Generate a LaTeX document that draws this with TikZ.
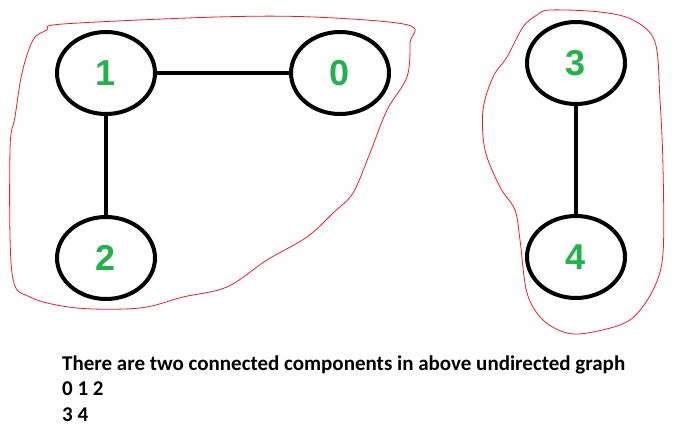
\documentclass[tikz,border=0pt]{standalone}
\usepackage{fontspec}
\setmainfont{Carlito}
\newfontfamily\numfont{Liberation Sans}
\usepackage{tikz}
\usetikzlibrary{shapes}
\definecolor{numgreen}{HTML}{22B14C}
\definecolor{loopred}{HTML}{ED1C24}
\tikzset{
  vert/.style={shape=ellipse,draw=black,line width=4pt,fill=white,inner sep=0pt,
    minimum width=98pt,minimum height=82pt,text=numgreen,font=\numfont\bfseries\fontsize{36}{36}\selectfont},
  edge/.style={draw=black,line width=4pt},
  blob/.style={draw=loopred,line width=0.8pt},
  caption/.style={anchor=base west,inner sep=0pt,font=\bfseries\fontsize{21}{21}\selectfont}
}
\newcommand{\gvertex}[3]{\node[vert] (v#1) at ( #2 , #3 ) {#1};}
\newcommand{\gedge}[2]{\draw[edge] (v#1) -- (v#2);}

\begin{document}
\begin{tikzpicture}[x=1pt,y=-1pt]
        \useasboundingbox (0,0) rectangle (683,439);
        % outline of first component
        \draw[blob] plot[smooth cycle,tension=0.55] coordinates {
          (63,24) (217,17) (313,17) (408,25) (410,43) (407,77) (387,110)
          (370,153) (353,193) (333,213) (307,237) (267,260) (227,287)
          (183,297) (140,308) (77,308) (30,297) (12,273) (10,150)
          (15,117) (22,73) (33,40) (47,30)};
        % outline of second component
        \draw[blob] plot[smooth cycle,tension=0.55] coordinates {
          (550,10) (600,12) (633,20) (655,42) (660,100) (663,167)
          (663,253) (653,290) (630,320) (593,332) (567,333) (543,320)
          (527,293) (520,240) (515,210) (500,187) (485,150) (483,110)
          (493,77) (507,57) (523,27) (537,15)};
        % component 1
        \gvertex{1}{106}{73}
        \gvertex{0}{340}{73}
        \gvertex{2}{106}{258}
        % component 2
        \gvertex{3}{576}{63}
        \gvertex{4}{576}{257}
        % edges
        \gedge{1}{0}
        \gedge{1}{2}
        \gedge{3}{4}
        % text
        \node[caption] (l1) at (62,370) {There are two connected components in above undirected graph};
        \node[caption] (l2) at (62,395) {0 1 2};
        \node[caption] (l3) at (62,421) {3 4};
\end{tikzpicture}
\end{document}
